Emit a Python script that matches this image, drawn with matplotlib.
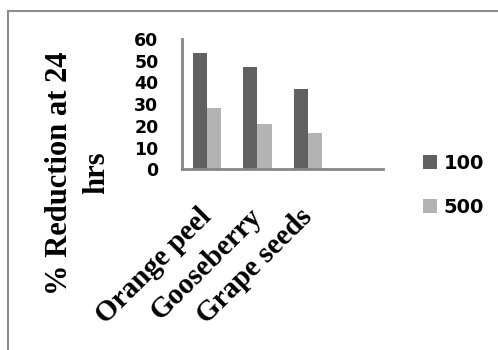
import matplotlib
matplotlib.use('agg')
import matplotlib.pyplot as plt
from matplotlib.lines import Line2D
from matplotlib.font_manager import FontProperties
import numpy as np

categories = ['Orange peel', 'Gooseberry', 'Grape seeds', '']
series_names = ['100', '500']
values_100 = [53.4, 47.1, 37.0, 0]
values_500 = [28.1, 20.7, 16.7, 0]
yticks = [0, 10, 20, 30, 40, 50, 60]

dark = '#606060'
light = '#b3b3b3'
spine_col = '#868686'
serif_lbl = FontProperties(family=['Liberation Serif', 'DejaVu Serif'], weight='bold', size=22)
serif_cat = FontProperties(family=['Liberation Serif', 'DejaVu Serif'], weight='bold', size=21)
sans_tick = FontProperties(family=['DejaVu Sans'], weight='bold', size=12.5)
sans_leg = FontProperties(family=['DejaVu Sans'], weight='bold', size=14)

fig = plt.figure(figsize=(4.98, 3.5), dpi=100)
ax = fig.add_axes([0.3655, 0.516, 0.404, 0.373])

x = np.arange(len(categories))
w = 0.28
ax.bar(x - w / 2, values_100, w, color=dark, label=series_names[0])
ax.bar(x + w / 2, values_500, w, color=light, label=series_names[1])

ax.set_xlim(-0.5, 3.5)
ax.set_ylim(0, 60)
ax.set_yticks(yticks)
ax.set_yticklabels([str(t) for t in yticks], fontproperties=sans_tick)
ax.set_xticks(x[:3])
ax.set_xticklabels(categories[:3], fontproperties=serif_cat,
                   rotation=45, ha='right', va='center', rotation_mode='anchor')
ax.tick_params(axis='y', length=0, pad=17)
ax.tick_params(axis='x', length=0, pad=31)
for side in ['top', 'right']:
    ax.spines[side].set_visible(False)
for side in ['left', 'bottom']:
    ax.spines[side].set_color(spine_col)
    ax.spines[side].set_linewidth(2)

fig.text(0.157, 0.506, '% Reduction at 24\nhrs', fontproperties=serif_lbl,
         rotation=90, ha='center', va='center', multialignment='center',
         linespacing=1.35)

fig.legend(loc='center left', bbox_to_anchor=(0.849, 0.471), frameon=False,
           prop=sans_leg, borderpad=0, borderaxespad=0,
           handlelength=0.72, handleheight=0.72, handletextpad=0.35,
           labelspacing=1.3)

# outer border (top and left edges visible)
fig.add_artist(Line2D([0.017, 1.0], [0.970, 0.970], color='#8c8c8c', lw=1.5))
fig.add_artist(Line2D([0.017, 0.017], [0.970, 0.0], color='#8c8c8c', lw=1.5))

fig.savefig('out.png', dpi=100)
